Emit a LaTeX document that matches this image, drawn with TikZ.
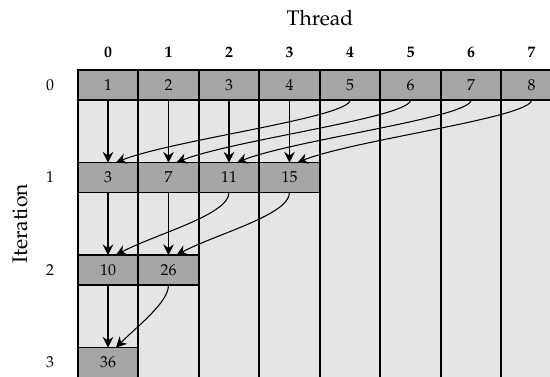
\documentclass[tikz,border=0pt]{standalone}
\usepackage[T1]{fontenc}
\usepackage{mathpazo}
\usepackage{tikz}
\usetikzlibrary{arrows.meta}
\definecolor{celldark}{gray}{0.65}
\definecolor{cellbg}{gray}{0.9}
\tikzstyle{cell} = [draw=black, line width=1pt, fill=celldark, minimum width=1.21cm, minimum height=0.6cm, inner sep=0pt, outer sep=0pt, font=\small]
\tikzstyle{gridline} = [draw=black, line width=1pt]
\tikzstyle{arrow} = [draw, -{Stealth[length=6pt, width=6pt, inset=2pt]}, semithick]

\begin{document}
\begin{tikzpicture}
\useasboundingbox (0, 0) rectangle (11, -7.52);
\clip (0, 0) rectangle (11, -7.52);

%% Labels
\node (thread) at (6.4, -0.36) {\large Thread};
\node[rotate=90] (iteration) at (0.4, -4.48) {\large Iteration};
\node[font=\small\bfseries] (t0) at (2.16, -1.04) {0};
\node[font=\small\bfseries] (t1) at (3.37, -1.04) {1};
\node[font=\small\bfseries] (t2) at (4.58, -1.04) {2};
\node[font=\small\bfseries] (t3) at (5.79, -1.04) {3};
\node[font=\small\bfseries] (t4) at (7.00, -1.04) {4};
\node[font=\small\bfseries] (t5) at (8.21, -1.04) {5};
\node[font=\small\bfseries] (t6) at (9.42, -1.04) {6};
\node[font=\small\bfseries] (t7) at (10.63, -1.04) {7};
\node[font=\small] (i0) at (1.0, -1.70) {0};
\node[font=\small] (i1) at (1.0, -3.55) {1};
\node[font=\small] (i2) at (1.0, -5.40) {2};
\node[font=\small] (i3) at (1.0, -7.25) {3};

%% Background and thread columns
\fill[cellbg] (1.555, -1.4) rectangle (11.5, -8);
\draw[gridline] (1.555, -1.4) -- (1.555, -8)
  (2.765, -1.4) -- (2.765, -8)
  (3.975, -1.4) -- (3.975, -8)
  (5.185, -1.4) -- (5.185, -8)
  (6.395, -1.4) -- (6.395, -8)
  (7.605, -1.4) -- (7.605, -8)
  (8.815, -1.4) -- (8.815, -8)
  (10.025, -1.4) -- (10.025, -8);

%% Iteration 0
\node[cell] (r0c0) at (2.16, -1.70) {1};
\node[cell] (r0c1) at (3.37, -1.70) {2};
\node[cell] (r0c2) at (4.58, -1.70) {3};
\node[cell] (r0c3) at (5.79, -1.70) {4};
\node[cell] (r0c4) at (7.00, -1.70) {5};
\node[cell] (r0c5) at (8.21, -1.70) {6};
\node[cell] (r0c6) at (9.42, -1.70) {7};
\node[cell] (r0c7) at (10.63, -1.70) {8};

%% Iteration 1
\node[cell] (r1c0) at (2.16, -3.55) {3};
\node[cell] (r1c1) at (3.37, -3.55) {7};
\node[cell] (r1c2) at (4.58, -3.55) {11};
\node[cell] (r1c3) at (5.79, -3.55) {15};

%% Iteration 2
\node[cell] (r2c0) at (2.16, -5.40) {10};
\node[cell] (r2c1) at (3.37, -5.40) {26};

%% Iteration 3
\node[cell] (r3c0) at (2.16, -7.25) {36};

%% Reduction steps
\draw[arrow] (r0c0.south) -- (r1c0.north);
\draw[arrow] (r0c1.south) -- (r1c1.north);
\draw[arrow] (r0c2.south) -- (r1c2.north);
\draw[arrow] (r0c3.south) -- (r1c3.north);
\draw[arrow] (r0c4.south) to[out=-90, in=22, out distance=0.35cm, in distance=1.2cm] ([xshift=0.16cm]r1c0.north);
\draw[arrow] (r0c5.south) to[out=-90, in=22, out distance=0.35cm, in distance=1.2cm] ([xshift=0.16cm]r1c1.north);
\draw[arrow] (r0c6.south) to[out=-90, in=22, out distance=0.35cm, in distance=1.2cm] ([xshift=0.16cm]r1c2.north);
\draw[arrow] (r0c7.south) to[out=-90, in=22, out distance=0.35cm, in distance=1.2cm] ([xshift=0.16cm]r1c3.north);

\draw[arrow] (r1c0.south) -- (r2c0.north);
\draw[arrow] (r1c1.south) -- (r2c1.north);
\draw[arrow] (r1c2.south) to[out=-90, in=28, out distance=0.45cm, in distance=0.9cm] ([xshift=0.16cm]r2c0.north);
\draw[arrow] (r1c3.south) to[out=-90, in=28, out distance=0.45cm, in distance=0.9cm] ([xshift=0.16cm]r2c1.north);

\draw[arrow] (r2c0.south) -- (r3c0.north);
\draw[arrow] (r2c1.south) to[out=-90, in=45, out distance=0.35cm, in distance=0.6cm] ([xshift=0.16cm]r3c0.north);
\end{tikzpicture}
\end{document}
